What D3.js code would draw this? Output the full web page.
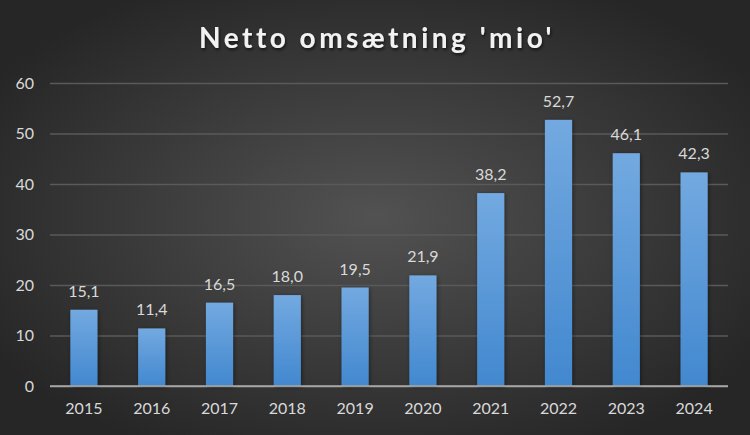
<!DOCTYPE html>
<html><head><meta charset="utf-8">
<script src="https://cdn.jsdelivr.net/npm/d3@7"></script>
<style>html,body{margin:0;padding:0;background:#333;}svg{display:block;}</style>
</head><body>
<svg id="c" width="750" height="435"></svg>
<script>
const years = ["2015","2016","2017","2018","2019","2020","2021","2022","2023","2024"];
const values = [15.1, 11.4, 16.5, 18.0, 19.5, 21.9, 38.2, 52.7, 46.1, 42.3];
const yTicks = [0, 10, 20, 30, 40, 50, 60];
const title = "Netto omsætning 'mio'";

const W = 750, H = 435;
const m = {left: 50, right: 22, top: 83, bottom: 49};
const svg = d3.select("#c");
const defs = svg.append("defs");
const bg = defs.append("radialGradient").attr("id","bg").attr("cx","50%").attr("cy","50%").attr("r","60%");
bg.append("stop").attr("offset","0%").attr("stop-color","#525252");
bg.append("stop").attr("offset","100%").attr("stop-color","#262626");
const bar = defs.append("linearGradient").attr("id","bar").attr("x1",0).attr("y1",0).attr("x2",0).attr("y2",1);
bar.append("stop").attr("offset","0%").attr("stop-color","#73a9e0");
bar.append("stop").attr("offset","100%").attr("stop-color","#4288cf");
const sh = defs.append("filter").attr("id","sh").attr("x","-20%").attr("y","-20%").attr("width","140%").attr("height","140%");
sh.append("feDropShadow").attr("dx",1).attr("dy",2).attr("stdDeviation",1.5).attr("flood-color","#000").attr("flood-opacity",0.6);
const bsh = defs.append("filter").attr("id","bsh").attr("x","-30%").attr("y","-10%").attr("width","160%").attr("height","120%");
bsh.append("feDropShadow").attr("dx",1).attr("dy",1).attr("stdDeviation",2).attr("flood-color","#000").attr("flood-opacity",0.45);

svg.append("rect").attr("width",W).attr("height",H).attr("fill","url(#bg)");

const x = d3.scaleBand().domain(years).range([m.left, W - m.right]).paddingInner(0.6).paddingOuter(0.3);
const y = d3.scaleLinear().domain([0, 60]).range([H - m.bottom, m.top]);

const grid = svg.append("g").attr("transform", `translate(${m.left},0)`)
  .call(d3.axisLeft(y).tickValues(yTicks).tickSize(-(W - m.left - m.right)).tickFormat(d => d).tickPadding(16));
grid.select(".domain").remove();
grid.selectAll(".tick line").attr("stroke","#5a5a5a").attr("stroke-width",1.3);
grid.selectAll(".tick").filter(d => d === 0).select("line").attr("stroke","#a6a6a6").attr("stroke-width",1.5);
grid.selectAll(".tick text").attr("fill","#d9d9d9").attr("font-family","Lato, sans-serif").attr("font-size",16);

const xa = svg.append("g").attr("transform", `translate(0,${H - m.bottom})`)
  .call(d3.axisBottom(x).tickSize(0).tickPadding(17));
xa.select(".domain").remove();
xa.selectAll(".tick text").attr("fill","#d9d9d9").attr("font-family","Lato, sans-serif").attr("font-size",16);

svg.append("g").selectAll("rect").data(values).join("rect")
  .attr("x",(d,i)=>x(years[i])).attr("width",x.bandwidth())
  .attr("y",d=>y(d)).attr("height",d=>y(0)-y(d))
  .attr("fill","url(#bar)").attr("filter","url(#bsh)");

svg.append("line").attr("x1",m.left).attr("x2",W-m.right).attr("y1",y(0)).attr("y2",y(0))
  .attr("stroke","#a6a6a6").attr("stroke-width",1.5);

svg.append("g").selectAll("text").data(values).join("text")
  .attr("x",(d,i)=>x(years[i])+x.bandwidth()/2).attr("y",d=>y(d)-13)
  .attr("text-anchor","middle").attr("fill","#d9d9d9")
  .attr("font-family","Lato, sans-serif").attr("font-size",16)
  .text(d => d.toFixed(1).replace(".", ","));

svg.append("text").attr("x",W/2+2).attr("y",48).attr("text-anchor","middle")
  .attr("fill","#f2f2f2").attr("font-family","Lato, sans-serif").attr("font-weight","bold")
  .attr("font-size",28).attr("letter-spacing",3.5).attr("filter","url(#sh)").text(title);
</script>
</body></html>
